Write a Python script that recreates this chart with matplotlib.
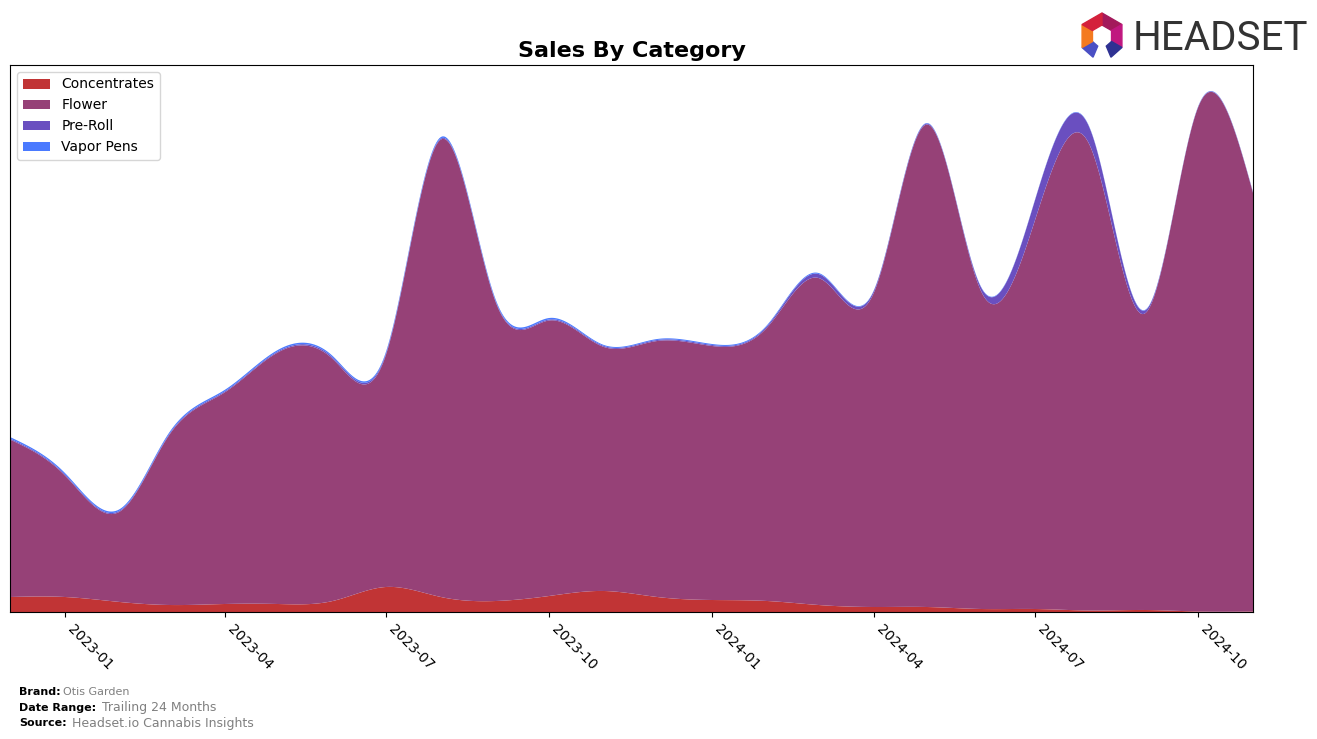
import numpy as np
import pandas as pd
import matplotlib
matplotlib.use("Agg")
import matplotlib.pyplot as plt
import matplotlib.dates as mdates
from matplotlib.patches import Polygon

# monthly sales by category (arbitrary units)
months = pd.date_range("2022-12-01", periods=24, freq="MS")
concentrates = [15, 15, 10, 7, 8, 8, 11, 25, 15, 11, 16, 21,
                15, 12, 11, 7, 5, 5, 3, 3, 1.5, 2, 0.5, 0.5]
flower = [157.5, 121.5, 90.5, 170.5, 211.5, 251.5, 242, 232, 457.5, 298.5, 275.5, 244,
          256, 254, 273.5, 327, 313.5, 482.5, 316.5, 388.5, 465, 296.5, 504, 418.7]
pre_roll = [1, 1, 1, 1, 1, 1, 1.5, 1.5, 1, 1, 1, 1,
            1, 1, 1.5, 4, 2, 1, 4, 20, 17, 3, 0.5, 0.5]
vapor_pens = [1.5, 1.5, 1.5, 1.5, 1.5, 1.5, 1.5, 1.5, 1.5, 1.5, 1.5, 1,
              1, 1, 1, 1, 0.5, 0.5, 0.5, 0.5, 0.5, 0.5, 0.3, 0.3]

labels = ["Concentrates", "Flower", "Pre-Roll", "Vapor Pens"]
colors = ["#c13435", "#964177", "#6a4fc0", "#4a7aff"]


def spline(x, y, xs):
    # natural cubic spline
    x = np.asarray(x, float)
    y = np.asarray(y, float)
    n = len(x)
    h = np.diff(x)
    A = np.zeros((n, n))
    r = np.zeros(n)
    A[0, 0] = A[-1, -1] = 1
    for i in range(1, n - 1):
        A[i, i - 1] = h[i - 1]
        A[i, i] = 2 * (h[i - 1] + h[i])
        A[i, i + 1] = h[i]
        r[i] = 6 * ((y[i + 1] - y[i]) / h[i] - (y[i] - y[i - 1]) / h[i - 1])
    M = np.linalg.solve(A, r)
    idx = np.clip(np.searchsorted(x, xs) - 1, 0, n - 2)
    x0, x1 = x[idx], x[idx + 1]
    hh = x1 - x0
    a = (x1 - xs) / hh
    b = (xs - x0) / hh
    return (a * y[idx] + b * y[idx + 1]
            + ((a ** 3 - a) * M[idx] + (b ** 3 - b) * M[idx + 1]) * hh ** 2 / 6)


xn = mdates.date2num(months)
xs = np.linspace(xn[0], xn[-1], 800)
layers = [np.clip(spline(xn, s, xs), 0, None)
          for s in (concentrates, flower, pre_roll, vapor_pens)]

fig = plt.figure(figsize=(13.17, 7.39), dpi=100)
ax = fig.add_axes([10 / 1317, 1 - 612 / 739, 1243 / 1317, 547 / 739])

ax.stackplot(xs, *layers, labels=labels, colors=colors)

ax.set_xlim(xn[0], xn[-1])
ax.set_ylim(0, 547)
ax.set_yticks([])
ax.xaxis.set_major_locator(mdates.MonthLocator(bymonth=[1, 4, 7, 10]))
ax.xaxis.set_major_formatter(mdates.DateFormatter("%Y-%m"))
plt.setp(ax.get_xticklabels(), rotation=-45, ha="left", fontsize=10)

ax.set_title("Sales By Category", fontsize=16, fontweight="bold", pad=6)
ax.legend(loc="upper left", fontsize=10)

# footer
fig.text(19 / 1317, 1 - 692 / 739, "Brand:", fontsize=8, fontweight="bold", va="center")
fig.text(63 / 1317, 1 - 692 / 739, "Otis Garden", fontsize=8, color="gray", va="center")
fig.text(19 / 1317, 1 - 708 / 739, "Date Range:", fontsize=8, fontweight="bold", va="center")
fig.text(102 / 1317, 1 - 708 / 739, "Trailing 24 Months", fontsize=9, color="gray", va="center")
fig.text(19 / 1317, 1 - 723 / 739, "Source:", fontsize=8, fontweight="bold", va="center")
fig.text(72 / 1317, 1 - 723 / 739, "Headset.io Cannabis Insights", fontsize=9, color="gray", va="center")

# logo
cx, cy, R, r = 1102, 36, 23, 11
angles = np.deg2rad([90, 30, -30, -90, -150, 150, 90])
seg_colors = ["#a3195b", "#c0177f", "#2e3192", "#4a4fc4", "#f47a20", "#d4213c"]
for i in range(6):
    a0, a1 = angles[i], angles[i + 1]
    if i == 2:
        a1 = -np.pi / 2 + 0.4
    if i == 3:
        a0 = -np.pi / 2 - 0.4
    pts = [(cx + R * np.cos(a0), cy - R * np.sin(a0)),
           (cx + R * np.cos(a1), cy - R * np.sin(a1)),
           (cx + r * np.cos(a1), cy - r * np.sin(a1)),
           (cx + r * np.cos(a0), cy - r * np.sin(a0))]
    fig.patches.append(Polygon([(px / 1317, 1 - py / 739) for px, py in pts],
                               closed=True, color=seg_colors[i],
                               transform=fig.transFigure, figure=fig))
fig.text(1133 / 1317, 1 - 38 / 739, "HEADSET", fontsize=29, color="#333333",
         family="Roboto", va="center", ha="left")

fig.savefig("out.png", dpi=100)
